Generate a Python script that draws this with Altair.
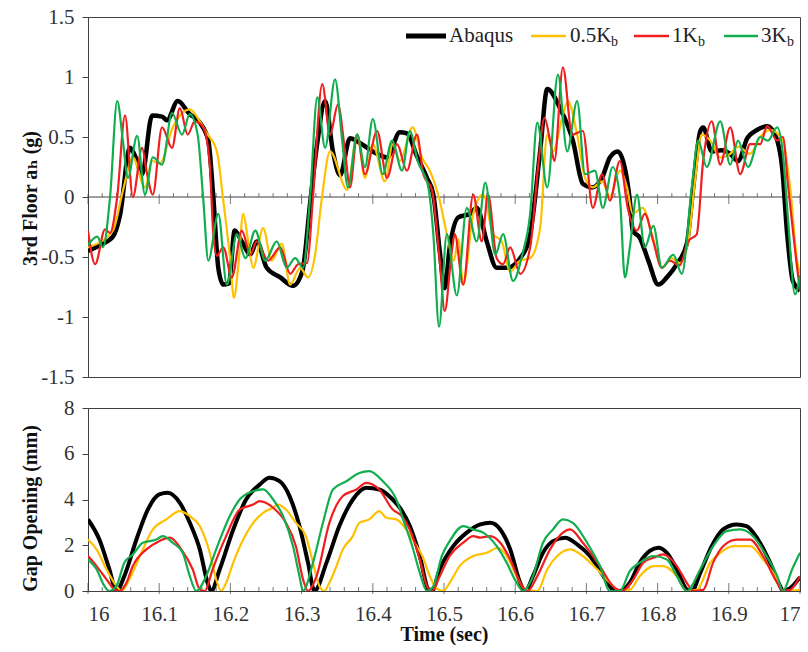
import altair as alt
import pandas as pd

# ---------------- data ----------------
SERIES = ["Abaqus", "0.5Kb", "1Kb", "3Kb"]
LEGEND_MAIN = ["Abaqus", "0.5K", "1K", "3K"]
LEGEND_SUB = ["", "b", "b", "b"]
COLORS = ["#000000", "#FFC000", "#F01E1E", "#12AD4F"]

# Top panel: 3rd floor acceleration (g)
acc_abaqus_t = [16.000, 16.017, 16.035, 16.045, 16.059, 16.067, 16.076, 16.090, 16.104, 16.111, 16.126, 16.143,
                16.157, 16.169, 16.176, 16.183, 16.190, 16.198, 16.206, 16.216, 16.228, 16.237, 16.251, 16.270,
                16.288, 16.301, 16.312, 16.322, 16.333, 16.344, 16.354, 16.368, 16.382, 16.400, 16.420, 16.438,
                16.448, 16.462, 16.476, 16.485, 16.494, 16.501, 16.508, 16.520, 16.537, 16.546, 16.560, 16.574,
                16.588, 16.607, 16.621, 16.635, 16.645, 16.663, 16.681, 16.695, 16.708, 16.722, 16.733, 16.744,
                16.754, 16.761, 16.765, 16.775, 16.787, 16.801, 16.813, 16.827, 16.841, 16.850, 16.860, 16.864,
                16.876, 16.890, 16.902, 16.913, 16.926, 16.940, 16.954, 16.965, 16.975, 16.982, 16.990, 17.000]
acc_abaqus_v = [-0.45, -0.40, -0.33, -0.15, 0.41, 0.33, 0.19, 0.68, 0.67, 0.64, 0.80, 0.69,
                0.62, 0.47, 0.00, -0.59, -0.73, -0.72, -0.28, -0.37, -0.48, -0.37, -0.59, -0.67,
                -0.74, -0.62, -0.05, 0.45, 0.80, 0.38, 0.18, 0.49, 0.45, 0.38, 0.33, 0.54,
                0.53, 0.34, 0.16, 0.02, -0.45, -0.76, -0.42, -0.17, -0.14, -0.09, -0.37, -0.59,
                -0.59, -0.51, -0.31, 0.38, 0.90, 0.74, 0.47, 0.11, 0.08, 0.16, 0.33, 0.38,
                0.24, -0.03, -0.28, -0.34, -0.53, -0.73, -0.67, -0.56, -0.39, 0.08, 0.55, 0.58,
                0.38, 0.39, 0.36, 0.30, 0.49, 0.56, 0.59, 0.52, 0.24, -0.31, -0.70, -0.78]

acc_05_t = [16.000, 16.035, 16.049, 16.063, 16.080, 16.090, 16.101, 16.119, 16.143, 16.157, 16.167, 16.181,
            16.190, 16.199, 16.205, 16.211, 16.218, 16.225, 16.232, 16.246, 16.258, 16.272, 16.284, 16.298,
            16.309, 16.319, 16.328, 16.340, 16.364, 16.378, 16.389, 16.400, 16.417, 16.428, 16.438, 16.456,
            16.469, 16.480, 16.494, 16.504, 16.514, 16.520, 16.527, 16.541, 16.555, 16.569, 16.581, 16.593,
            16.607, 16.621, 16.635, 16.645, 16.653, 16.666, 16.674, 16.687, 16.698, 16.709, 16.722, 16.733,
            16.747, 16.757, 16.765, 16.779, 16.792, 16.806, 16.820, 16.831, 16.843, 16.853, 16.862, 16.874,
            16.888, 16.902, 16.913, 16.930, 16.944, 16.958, 16.976, 16.986, 16.996, 17.000]
acc_05_v = [-0.42, -0.28, 0.05, 0.33, 0.08, 0.30, 0.28, 0.58, 0.73, 0.63, 0.53, 0.38,
            -0.03, -0.48, -0.84, -0.58, -0.14, -0.37, -0.59, -0.26, -0.53, -0.39, -0.73, -0.59,
            -0.67, -0.48, -0.03, 0.38, 0.06, 0.52, 0.16, 0.44, 0.13, 0.44, 0.30, 0.58,
            0.33, 0.22, -0.03, -0.31, -0.53, -0.35, -0.73, -0.14, 0.02, -0.31, -0.37, -0.62,
            -0.53, -0.51, -0.26, 0.52, 0.38, 0.66, 0.80, 0.52, 0.16, 0.08, 0.13, 0.00,
            0.22, 0.08, -0.14, -0.09, -0.31, -0.59, -0.51, -0.55, -0.37, 0.16, 0.52, 0.47,
            0.33, 0.36, 0.42, 0.36, 0.50, 0.56, 0.47, 0.08, -0.53, -0.64]

acc_1_t = [16.000, 16.010, 16.024, 16.031, 16.041, 16.052, 16.063, 16.076, 16.083, 16.091, 16.104, 16.118,
           16.129, 16.140, 16.150, 16.162, 16.171, 16.176, 16.181, 16.190, 16.202, 16.216, 16.228, 16.237,
           16.253, 16.270, 16.284, 16.295, 16.308, 16.316, 16.329, 16.340, 16.351, 16.361, 16.368, 16.378,
           16.389, 16.406, 16.420, 16.434, 16.448, 16.462, 16.471, 16.483, 16.494, 16.501, 16.511, 16.515,
           16.527, 16.541, 16.553, 16.562, 16.574, 16.583, 16.593, 16.607, 16.621, 16.633, 16.641, 16.649,
           16.655, 16.667, 16.680, 16.695, 16.709, 16.722, 16.733, 16.747, 16.758, 16.771, 16.782, 16.794,
           16.806, 16.817, 16.831, 16.843, 16.855, 16.864, 16.876, 16.888, 16.902, 16.916, 16.930, 16.944,
           16.954, 16.968, 16.976, 16.983, 16.996, 17.000]
acc_1_v = [-0.28, -0.56, -0.27, -0.30, 0.00, 0.68, 0.00, 0.41, 0.19, 0.02, 0.58, 0.41,
           0.74, 0.52, 0.63, 0.58, 0.27, -0.31, -0.49, -0.42, -0.67, -0.28, -0.48, -0.37,
           -0.53, -0.42, -0.64, -0.56, -0.55, 0.00, 0.94, 0.52, 0.77, 0.38, 0.08, 0.52,
           0.19, 0.55, 0.16, 0.44, 0.22, 0.52, 0.19, 0.06, -0.53, -0.95, -0.45, -0.31,
           -0.73, 0.02, -0.37, 0.02, -0.51, -0.56, -0.42, -0.64, -0.42, 0.30, 0.66, 0.47,
           0.30, 1.08, 0.52, 0.55, -0.09, 0.19, -0.03, 0.30, -0.09, -0.28, -0.14, -0.37,
           -0.59, -0.53, -0.57, -0.37, -0.31, 0.30, 0.63, 0.27, 0.58, 0.19, 0.44, 0.44,
           0.59, 0.47, 0.50, 0.11, -0.59, -0.78]

acc_3_t = [16.000, 16.013, 16.021, 16.031, 16.041, 16.049, 16.056, 16.069, 16.080, 16.091, 16.104, 16.118,
           16.132, 16.143, 16.154, 16.162, 16.169, 16.183, 16.195, 16.209, 16.221, 16.235, 16.249, 16.265,
           16.279, 16.291, 16.302, 16.312, 16.322, 16.333, 16.347, 16.357, 16.365, 16.378, 16.389, 16.400,
           16.414, 16.427, 16.441, 16.452, 16.463, 16.478, 16.485, 16.493, 16.504, 16.518, 16.532, 16.546,
           16.558, 16.572, 16.583, 16.597, 16.610, 16.621, 16.631, 16.645, 16.660, 16.673, 16.687, 16.698,
           16.712, 16.723, 16.737, 16.747, 16.754, 16.761, 16.771, 16.782, 16.794, 16.806, 16.822, 16.834,
           16.848, 16.857, 16.869, 16.888, 16.902, 16.913, 16.927, 16.944, 16.955, 16.968, 16.976, 16.983,
           16.993, 17.000]
acc_3_v = [-0.40, -0.33, -0.42, 0.00, 0.80, 0.47, 0.16, 0.51, 0.02, 0.33, 0.27, 0.70,
           0.52, 0.69, 0.52, -0.03, -0.53, -0.14, -0.73, -0.31, -0.51, -0.28, -0.53, -0.37,
           -0.59, -0.51, -0.59, 0.00, 0.83, 0.41, 0.98, 0.47, 0.08, 0.52, 0.25, 0.65,
           0.19, 0.47, 0.22, 0.55, 0.30, 0.08, -0.31, -1.08, -0.31, -0.82, -0.09, -0.37,
           0.12, -0.48, -0.31, -0.70, -0.48, -0.14, 0.62, 0.08, 1.02, 0.38, 0.80, 0.19,
           0.22, -0.09, 0.25, 0.00, -0.67, -0.42, 0.02, -0.42, -0.24, -0.59, -0.48, -0.64,
           0.08, 0.47, 0.25, 0.63, 0.27, 0.47, 0.25, 0.50, 0.47, 0.58, 0.36, -0.17,
           -0.81, -0.65]

# Bottom panel: gap opening (mm)
gap_abaqus_t = [16.000, 16.016, 16.030, 16.040, 16.051, 16.068, 16.084, 16.100, 16.112, 16.129, 16.143, 16.157,
                16.168, 16.173, 16.185, 16.204, 16.222, 16.241, 16.255, 16.269, 16.283, 16.297, 16.309, 16.318,
                16.335, 16.353, 16.372, 16.391, 16.409, 16.428, 16.440, 16.452, 16.466, 16.478, 16.483, 16.494,
                16.513, 16.532, 16.551, 16.565, 16.579, 16.593, 16.607, 16.614, 16.625, 16.639, 16.653, 16.670,
                16.687, 16.705, 16.724, 16.737, 16.747, 16.761, 16.775, 16.789, 16.801, 16.813, 16.827, 16.841,
                16.848, 16.860, 16.876, 16.892, 16.911, 16.925, 16.941, 16.958, 16.972, 16.976, 16.989, 17.000]
gap_abaqus_v = [3.13, 2.25, 0.95, 0.00, 0.65, 2.25, 3.56, 4.22, 4.29, 3.85, 2.98, 1.82,
                0.36, 0.00, 0.95, 2.69, 4.00, 4.65, 4.95, 4.80, 4.15, 2.84, 1.24, 0.00,
                1.24, 2.84, 4.00, 4.51, 4.44, 4.00, 3.55, 2.84, 1.53, 0.07, 0.00, 0.95,
                1.96, 2.55, 2.91, 2.98, 2.69, 1.82, 0.36, 0.00, 0.65, 1.67, 2.18, 2.33,
                2.04, 1.53, 0.65, 0.07, 0.00, 0.36, 1.24, 1.75, 1.89, 1.67, 0.95, 0.07,
                0.00, 0.80, 1.96, 2.69, 2.91, 2.84, 2.25, 1.24, 0.22, 0.00, 0.20, 0.60]

gap_05_t = [16.000, 16.012, 16.026, 16.040, 16.047, 16.058, 16.073, 16.091, 16.110, 16.129, 16.143, 16.157,
            16.171, 16.180, 16.187, 16.194, 16.204, 16.218, 16.232, 16.246, 16.260, 16.267, 16.278, 16.292,
            16.306, 16.316, 16.325, 16.332, 16.339, 16.349, 16.358, 16.372, 16.381, 16.395, 16.409, 16.419,
            16.433, 16.447, 16.461, 16.470, 16.480, 16.490, 16.499, 16.508, 16.522, 16.541, 16.560, 16.576,
            16.588, 16.602, 16.614, 16.631, 16.645, 16.659, 16.677, 16.695, 16.715, 16.733, 16.747, 16.761,
            16.775, 16.794, 16.808, 16.827, 16.841, 16.855, 16.874, 16.888, 16.906, 16.930, 16.948, 16.968,
            16.976, 17.000]
gap_05_v = [2.25, 1.82, 0.95, 0.22, 0.00, 0.51, 1.53, 2.69, 3.13, 3.49, 3.27, 2.84,
            1.67, 0.51, 0.00, 0.36, 1.24, 2.25, 2.98, 3.42, 3.64, 3.78, 3.56, 2.98,
            2.40, 1.24, 0.22, 0.00, 0.36, 1.09, 1.82, 2.40, 2.98, 3.13, 3.49, 3.20,
            3.13, 2.69, 2.00, 1.50, 0.65, 0.10, 0.00, 0.36, 1.09, 1.53, 1.67, 1.89,
            1.53, 0.65, 0.07, 0.00, 0.95, 1.53, 1.82, 1.53, 0.95, 0.36, 0.00, 0.05,
            0.65, 1.09, 1.09, 0.65, 0.00, 0.05, 1.24, 1.67, 1.96, 1.96, 1.38, 0.51,
            0.00, 0.05]

gap_1_t = [16.000, 16.012, 16.026, 16.037, 16.044, 16.054, 16.063, 16.082, 16.100, 16.115, 16.131, 16.147,
           16.157, 16.164, 16.175, 16.194, 16.213, 16.232, 16.241, 16.260, 16.278, 16.292, 16.302, 16.309,
           16.321, 16.339, 16.358, 16.377, 16.391, 16.409, 16.428, 16.440, 16.452, 16.466, 16.476, 16.483,
           16.494, 16.508, 16.527, 16.541, 16.551, 16.565, 16.579, 16.593, 16.607, 16.617, 16.631, 16.649,
           16.667, 16.677, 16.695, 16.719, 16.737, 16.750, 16.766, 16.780, 16.794, 16.808, 16.827, 16.841,
           16.850, 16.864, 16.878, 16.892, 16.911, 16.930, 16.948, 16.968, 16.976, 16.986, 17.000]
gap_1_v = [1.53, 1.09, 0.51, 0.07, 0.00, 0.36, 1.09, 1.82, 2.18, 2.33, 1.82, 0.95,
           0.07, 0.00, 0.95, 2.40, 3.56, 3.78, 3.93, 3.64, 2.98, 1.96, 0.51, 0.00,
           0.65, 2.98, 4.15, 4.44, 4.73, 4.44, 3.56, 3.30, 2.69, 1.38, 0.22, 0.00,
           0.65, 1.53, 2.11, 2.40, 2.33, 2.40, 2.11, 1.38, 0.36, 0.00, 0.65, 1.82,
           2.55, 2.69, 2.11, 1.09, 0.22, 0.00, 0.51, 1.24, 1.45, 1.60, 1.09, 0.36,
           0.00, 0.05, 1.24, 1.96, 2.25, 2.25, 1.53, 0.36, 0.00, 0.05, 0.65]

gap_3_t = [16.000, 16.012, 16.023, 16.030, 16.040, 16.051, 16.063, 16.077, 16.096, 16.105, 16.119, 16.133,
           16.143, 16.152, 16.166, 16.180, 16.199, 16.213, 16.232, 16.246, 16.260, 16.274, 16.288, 16.297,
           16.302, 16.316, 16.330, 16.344, 16.363, 16.381, 16.395, 16.414, 16.433, 16.443, 16.455, 16.466,
           16.476, 16.485, 16.497, 16.508, 16.527, 16.541, 16.555, 16.574, 16.588, 16.602, 16.611, 16.625,
           16.639, 16.653, 16.667, 16.681, 16.701, 16.719, 16.733, 16.747, 16.761, 16.775, 16.794, 16.813,
           16.827, 16.841, 16.860, 16.878, 16.897, 16.916, 16.934, 16.953, 16.968, 16.976, 16.989, 17.000]
gap_3_v = [1.38, 0.95, 0.22, 0.00, 0.22, 1.24, 1.60, 2.11, 2.25, 2.40, 2.11, 1.67,
           0.65, 0.00, 0.65, 1.82, 3.27, 4.00, 4.36, 4.44, 4.00, 3.27, 1.96, 0.65,
           0.00, 1.24, 2.98, 4.44, 4.80, 5.16, 5.24, 4.80, 4.00, 3.10, 2.00, 0.80,
           0.00, 0.20, 1.53, 2.18, 2.84, 2.69, 2.55, 1.96, 1.24, 0.36, 0.00, 0.65,
           2.11, 2.69, 3.13, 2.98, 2.11, 1.09, 0.00, 0.00, 0.87, 1.24, 1.53, 1.38,
           0.65, 0.00, 0.95, 1.96, 2.62, 2.69, 2.40, 1.53, 0.65, 0.00, 0.95, 1.67]

X_MAJOR = [16, 16.1, 16.2, 16.3, 16.4, 16.5, 16.6, 16.7, 16.8, 16.9, 17]
X_MINOR = [16.02, 16.04, 16.06, 16.08, 16.12, 16.14, 16.16, 16.18, 16.22, 16.24, 16.26, 16.28,
           16.32, 16.34, 16.36, 16.38, 16.42, 16.44, 16.46, 16.48, 16.52, 16.54, 16.56, 16.58,
           16.62, 16.64, 16.66, 16.68, 16.72, 16.74, 16.76, 16.78, 16.82, 16.84, 16.86, 16.88,
           16.92, 16.94, 16.96, 16.98]
Y_TOP_TICKS = [-1.5, -1, -0.5, 0, 0.5, 1, 1.5]
Y_BOT_TICKS = [0, 2, 4, 6, 8]

acc = [(acc_abaqus_t, acc_abaqus_v), (acc_05_t, acc_05_v), (acc_1_t, acc_1_v), (acc_3_t, acc_3_v)]
gap = [(gap_abaqus_t, gap_abaqus_v), (gap_05_t, gap_05_v), (gap_1_t, gap_1_v), (gap_3_t, gap_3_v)]

# ---------------- styling ----------------
FONT = "Liberation Serif, Times New Roman, DejaVu Serif, serif"
AX = "#404040"
W = 712
H_TOP = 360
H_BOT = 183

xscale = alt.Scale(domain=[16, 17], nice=False, zero=False)

def y_enc(domain, values, title, title_y):
    return alt.Y("v:Q", scale=alt.Scale(domain=domain, nice=False, zero=False),
                 axis=alt.Axis(values=values, labelExpr="'' + datum.value", grid=False,
                               labelFont=FONT, labelFontSize=21, labelColor="#333333",
                               labelPadding=8, tickSize=6, tickColor=AX, domainColor=AX,
                               title=title, titleFont=FONT, titleFontSize=20,
                               titleFontWeight="bold", titleColor="#111111",
                               titleAngle=270, titleAlign="center", titleBaseline="middle",
                               titleX=-58, titleY=title_y))


def panel(series_data, ydomain, yvalues, ytitle, title_y, bottom):
    yenc = y_enc(ydomain, yvalues, ytitle, title_y)
    if bottom:
        xenc = alt.X("t:Q", scale=xscale,
                     axis=alt.Axis(values=X_MAJOR, labelExpr="'' + datum.value", grid=False,
                                   ticks=False, domainColor=AX, labelFont=FONT, labelFontSize=21,
                                   labelColor="#333333", labelPadding=12,
                                   title="Time (sec)", titleFont=FONT, titleFontSize=20,
                                   titleFontWeight="bold", titleColor="#111111", titlePadding=0))
    else:
        xenc = alt.X("t:Q", scale=xscale, axis=None)

    layers = []
    if not bottom:
        layers.append(alt.Chart(pd.DataFrame({"v": [0]})).mark_rule(color=AX, strokeWidth=1)
                      .encode(y=yenc))
    maj = pd.DataFrame({"t": X_MAJOR, "v": [0] * len(X_MAJOR)})
    mnr = pd.DataFrame({"t": X_MINOR, "v": [0] * len(X_MINOR)})
    if bottom:
        maj_mark = alt.Chart(maj).mark_tick(orient="vertical", size=11, thickness=1, yOffset=-2.5, color=AX)
    else:
        maj_mark = alt.Chart(maj).mark_tick(orient="vertical", size=10, thickness=1, yOffset=2, color=AX)
    layers.append(maj_mark.encode(x=xenc, y=yenc))
    layers.append(alt.Chart(mnr).mark_tick(orient="vertical", size=4, thickness=1, yOffset=-2, color=AX)
                  .encode(x=xenc, y=yenc))

    for i, (ts, vs) in enumerate(series_data):
        df = pd.DataFrame({"t": ts, "v": vs, "series": SERIES[i]})
        sw = (4.5 if not bottom else 4.0) if i == 0 else 2.2
        layers.append(alt.Chart(df).mark_line(color=COLORS[i], strokeWidth=sw, interpolate="monotone",
                                              clip=True, strokeJoin="round")
                      .encode(x=xenc, y=yenc))
    return layers


top_layers = panel(acc, [-1.5, 1.5], Y_TOP_TICKS, "3rd Floor a\u2095 (g)", 181, False)

# legend inside the top panel (subscripts drawn as smaller text)
leg_line = [(318, 358), (443, 478), (546, 581), (636, 670)]
leg_text_x = [361, 482, 584, 673]
leg_sub_x = [0, 523, 610, 699]
for i in range(4):
    d = pd.DataFrame({"label": [LEGEND_MAIN[i]], "sub": [LEGEND_SUB[i]]})
    base = alt.Chart(d)
    top_layers.append(base.mark_rule(color=COLORS[i], strokeWidth=(5 if i == 0 else 2.5))
                      .encode(x=alt.value(leg_line[i][0]), x2=alt.value(leg_line[i][1]), y=alt.value(19)))
    top_layers.append(base.mark_text(align="left", baseline="middle", font=FONT, fontSize=21, color="#222222")
                      .encode(x=alt.value(leg_text_x[i]), y=alt.value(19), text="label:N"))
    if LEGEND_SUB[i]:
        top_layers.append(base.mark_text(align="left", baseline="middle", font=FONT, fontSize=14, color="#222222")
                          .encode(x=alt.value(leg_sub_x[i]), y=alt.value(25), text="sub:N"))

top = alt.layer(*top_layers).properties(width=W, height=H_TOP)

bot_layers = panel(gap, [0, 8], Y_BOT_TICKS, "Gap Opening (mm)", 100, True)
bottom = alt.layer(*bot_layers).properties(width=W, height=H_BOT)

chart = (alt.vconcat(top, bottom, spacing=8)
         .properties(padding={"left": 19, "top": 5, "right": 0, "bottom": 0}, background="white")
         .configure_view(stroke=AX, strokeWidth=1))

chart.save("out.html", embed_options={"renderer": "svg", "actions": False})
